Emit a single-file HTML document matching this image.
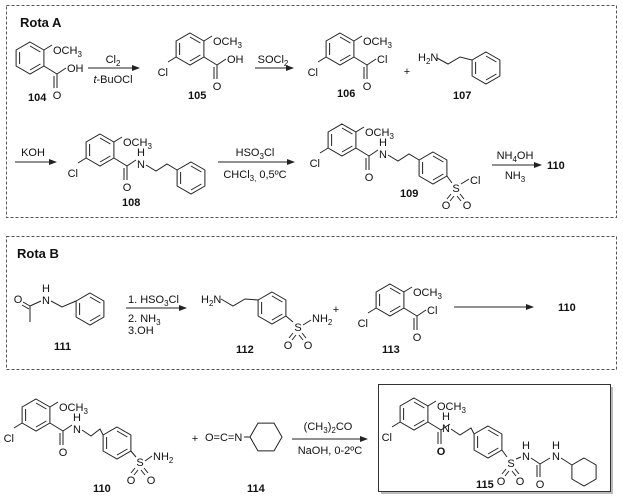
<!DOCTYPE html>
<html><head><meta charset="utf-8"><style>
html,body{margin:0;padding:0;background:#fff;}
svg{display:block;font-family:"Liberation Sans",sans-serif;}
.b{stroke:#222;stroke-width:1;fill:none;}
text{font-size:11px;fill:#111;}
.l{font-weight:bold;}
</style></head><body>
<svg width="623" height="499" viewBox="0 0 623 499" xmlns="http://www.w3.org/2000/svg">
<defs>
<g id="bz" class="b"><path d="M0,-16L13.9,-8L13.9,8L0,16L-13.9,8L-13.9,-8Z M0,-12L10.4,-6 M10.4,6L0,12 M-10.4,6L-10.4,-6"/></g>
<g id="ar0" class="b"><use href="#bz"/><path d="M13.9,-8L22,-13 M13.9,8L27,16 M27,16L27,30 M24,18L24,30 M27,16L36,10"/></g>
<g id="ar" class="b"><use href="#ar0"/><path d="M-13.9,8L-22,13"/></g>
<g id="cyf" class="b"><path d="M16,0L8,13.9L-8,13.9L-16,0L-8,-13.9L8,-13.9Z"/></g>
<g id="cyp" class="b"><path d="M0,-14L12.1,-7L12.1,7L0,14L-12.1,7L-12.1,-7Z"/></g>
<marker id="ah" markerWidth="8" markerHeight="6" refX="7" refY="3" orient="auto" markerUnits="userSpaceOnUse"><path d="M0,0L8,3L0,6Z" fill="#222"/></marker>
</defs>

<rect x="6.5" y="5.5" width="610" height="212" fill="none" stroke="#555" stroke-dasharray="3,2"/>
<rect x="6.5" y="236.5" width="610" height="133" fill="none" stroke="#555" stroke-dasharray="3,2"/>
<rect x="381" y="387" width="232" height="107" fill="#bbb"/>
<rect x="378.5" y="384.5" width="232" height="107" fill="#fff" stroke="#333"/>

<text x="20" y="27" class="l" style="font-size:13px">Rota A</text>
<text x="17" y="258" class="l" style="font-size:13px">Rota B</text>

<g transform="translate(30,58)"><use href="#ar0"/>
<text x="23" y="-4">OCH<tspan dy="3" font-size="8">3</tspan></text>
<text x="37" y="14">OH</text><text x="27" y="41" text-anchor="middle">O</text></g>
<text x="28" y="101" class="l">104</text>
<line class="b" x1="88" y1="68" x2="139" y2="68" marker-end="url(#ah)"/>
<text x="113" y="63" text-anchor="middle">Cl<tspan dy="3" font-size="8">2</tspan></text>
<text x="113" y="83" text-anchor="middle"><tspan font-style="italic">t</tspan>-BuOCl</text>

<g transform="translate(190,49)"><use href="#ar"/>
<text x="23" y="-4">OCH<tspan dy="3" font-size="8">3</tspan></text>
<text x="-22" y="27" text-anchor="end">Cl</text>
<text x="37" y="14">OH</text><text x="27" y="41" text-anchor="middle">O</text></g>
<text x="188" y="99" class="l">105</text>
<line class="b" x1="255" y1="68" x2="293" y2="68" marker-end="url(#ah)"/>
<text x="273" y="63" text-anchor="middle">SOCl<tspan dy="3" font-size="8">2</tspan></text>

<g transform="translate(340,49)"><use href="#ar"/>
<text x="23" y="-4">OCH<tspan dy="3" font-size="8">3</tspan></text>
<text x="-22" y="27" text-anchor="end">Cl</text>
<text x="37" y="14">Cl</text><text x="27" y="41" text-anchor="middle">O</text></g>
<text x="337" y="97" class="l">106</text>
<text x="407" y="75" text-anchor="middle">+</text>

<text x="418" y="61">H<tspan dy="3" font-size="8">2</tspan><tspan dy="-3">N</tspan></text>
<path class="b" d="M437,58L448,64L460,57L472,60"/>
<use href="#bz" x="486" y="68"/>
<text x="453" y="99" class="l">107</text>

<line class="b" x1="15" y1="162" x2="56" y2="162" marker-end="url(#ah)"/>
<text x="33" y="156" text-anchor="middle">KOH</text>

<g transform="translate(100,150)"><use href="#ar"/>
<text x="23" y="-4">OCH<tspan dy="3" font-size="8">3</tspan></text>
<text x="-22" y="27" text-anchor="end">Cl</text>
<text x="41" y="18" text-anchor="middle">N</text><text x="41" y="6" text-anchor="middle">H</text>
<text x="27" y="41" text-anchor="middle">O</text>
<path class="b" d="M46,15L56,21L67,14L77.1,20"/><use href="#bz" x="91" y="28"/></g>
<text x="122" y="206" class="l">108</text>

<line class="b" x1="218" y1="162" x2="294" y2="162" marker-end="url(#ah)"/>
<text x="255" y="156" text-anchor="middle">HSO<tspan dy="3" font-size="8">3</tspan><tspan dy="-3">Cl</tspan></text>
<text x="255" y="178" text-anchor="middle">CHCl<tspan dy="3" font-size="8">3,</tspan><tspan dy="-3"> 0,5ºC</tspan></text>

<g transform="translate(342,140)"><use href="#ar"/>
<text x="23" y="-4">OCH<tspan dy="3" font-size="8">3</tspan></text>
<text x="-22" y="27" text-anchor="end">Cl</text>
<text x="41" y="18" text-anchor="middle">N</text><text x="41" y="6" text-anchor="middle">H</text>
<text x="27" y="41" text-anchor="middle">O</text>
<path class="b" d="M46,15L56,21L67,14L77.1,20"/><use href="#bz" x="91" y="28"/></g>
<path class="b" d="M446.9,176L452,183 M461,184L469,179 M451,194L447,199 M454,196L450,201 M460,194L464,199 M457,196L461,201"/>
<text x="456" y="192" text-anchor="middle">S</text>
<text x="470" y="184">Cl</text>
<text x="446" y="209" text-anchor="middle">O</text><text x="467" y="209" text-anchor="middle">O</text>
<text x="400" y="197" class="l">109</text>

<line class="b" x1="492" y1="165" x2="541" y2="165" marker-end="url(#ah)"/>
<text x="515" y="159" text-anchor="middle">NH<tspan dy="3" font-size="8">4</tspan><tspan dy="-3">OH</tspan></text>
<text x="515" y="179" text-anchor="middle">NH<tspan dy="3" font-size="8">3</tspan></text>
<text x="547" y="169" class="l">110</text>

<text x="18" y="303" text-anchor="middle">O</text>
<text x="46" y="304" text-anchor="middle">N</text><text x="46" y="292" text-anchor="middle">H</text>
<path class="b" d="M23,302L30,306 M22,305L29,309 M30,306L30,322 M30,306L41,301 M51,301L62,307L76,301"/>
<use href="#bz" x="90" y="309"/>
<text x="54" y="350" class="l">111</text>
<line class="b" x1="126" y1="308" x2="186" y2="308" marker-end="url(#ah)"/>
<text x="128" y="303">1. HSO<tspan dy="3" font-size="8">3</tspan><tspan dy="-3">Cl</tspan></text>
<text x="128" y="322">2. NH<tspan dy="3" font-size="8">3</tspan></text>
<text x="128" y="334">3.OH</text>

<text x="201" y="303">H<tspan dy="3" font-size="8">2</tspan><tspan dy="-3">N</tspan></text>
<path class="b" d="M221,299L233,306L245,299L258.1,300"/>
<use href="#bz" x="272" y="308"/>
<path class="b" d="M285.9,316L293,322 M303,325L311,320 M293,333L289,338 M296,335L292,340 M302,333L306,338 M299,335L303,340"/>
<text x="298" y="331" text-anchor="middle">S</text>
<text x="312" y="322">NH<tspan dy="3" font-size="8">2</tspan></text>
<text x="288" y="349" text-anchor="middle">O</text><text x="308" y="349" text-anchor="middle">O</text>
<text x="236" y="353" class="l">112</text>
<text x="336" y="313" text-anchor="middle">+</text>

<g transform="translate(390,300)"><use href="#ar"/>
<text x="23" y="-4">OCH<tspan dy="3" font-size="8">3</tspan></text>
<text x="-22" y="27" text-anchor="end">Cl</text>
<text x="37" y="14">Cl</text><text x="27" y="41" text-anchor="middle">O</text></g>
<text x="382" y="353" class="l">113</text>
<line class="b" x1="454" y1="307" x2="533" y2="307" marker-end="url(#ah)"/>
<text x="558" y="311" class="l">110</text>

<g transform="translate(36,415)"><use href="#ar"/>
<text x="23" y="-4">OCH<tspan dy="3" font-size="8">3</tspan></text>
<text x="-22" y="27" text-anchor="end">Cl</text>
<text x="41" y="18" text-anchor="middle">N</text><text x="41" y="6" text-anchor="middle">H</text>
<text x="27" y="41" text-anchor="middle">O</text>
<path class="b" d="M46,15L55,21L64,14L67.1,20"/><use href="#bz" x="81" y="28"/></g>
<path class="b" d="M130.9,451L136,457 M145,461L152,456 M135,468L131,473 M138,470L134,475 M144,468L148,473 M141,470L145,475"/>
<text x="140" y="466" text-anchor="middle">S</text>
<text x="153" y="460">NH<tspan dy="3" font-size="8">2</tspan></text>
<text x="131" y="484" text-anchor="middle">O</text><text x="151" y="484" text-anchor="middle">O</text>
<text x="93" y="492" class="l">110</text>

<text x="195" y="442" text-anchor="middle">+</text>
<text x="205" y="441">O=C=N</text>
<path class="b" d="M244,437L250,437"/>
<use href="#cyf" x="266" y="437"/>
<text x="247" y="492" class="l">114</text>

<line class="b" x1="292" y1="439" x2="367" y2="439" marker-end="url(#ah)"/>
<text x="328" y="430" text-anchor="middle">(CH<tspan dy="3" font-size="8">3</tspan><tspan dy="-3">)</tspan><tspan dy="3" font-size="8">2</tspan><tspan dy="-3">CO</tspan></text>
<text x="330" y="454" text-anchor="middle">NaOH, 0-2ºC</text>

<g transform="translate(414,414)"><use href="#ar"/>
<text x="23" y="-4">OCH<tspan dy="3" font-size="8">3</tspan></text>
<text x="-22" y="27" text-anchor="end">Cl</text>
<text x="32" y="18" text-anchor="middle">N</text><text x="32" y="6" text-anchor="middle">H</text>
<text x="27" y="41" text-anchor="middle" style="font-weight:bold">O</text>
<path class="b" d="M37,15L46,21L57,14L60.1,20"/><use href="#bz" x="74" y="28"/></g>
<path class="b" d="M501.9,450L507,457 M516,459L521,457 M531,458L540,464 M540,464L550,458 M540,464L540,477 M537,465L537,477 M561,458L571.9,465 M506,469L502,474 M509,471L505,476 M515,469L519,474 M512,471L516,476"/>
<use href="#cyp" x="584" y="472"/>
<text x="511" y="467" text-anchor="middle">S</text>
<text x="526" y="460" text-anchor="middle">N</text><text x="526" y="449" text-anchor="middle">H</text>
<text x="556" y="460" text-anchor="middle">N</text><text x="556" y="449" text-anchor="middle">H</text>
<text x="540" y="488" text-anchor="middle">O</text>
<text x="501" y="485" text-anchor="middle">O</text><text x="520" y="485" text-anchor="middle">O</text>
<text x="476" y="488" class="l">115</text>
</svg>
</body></html>
